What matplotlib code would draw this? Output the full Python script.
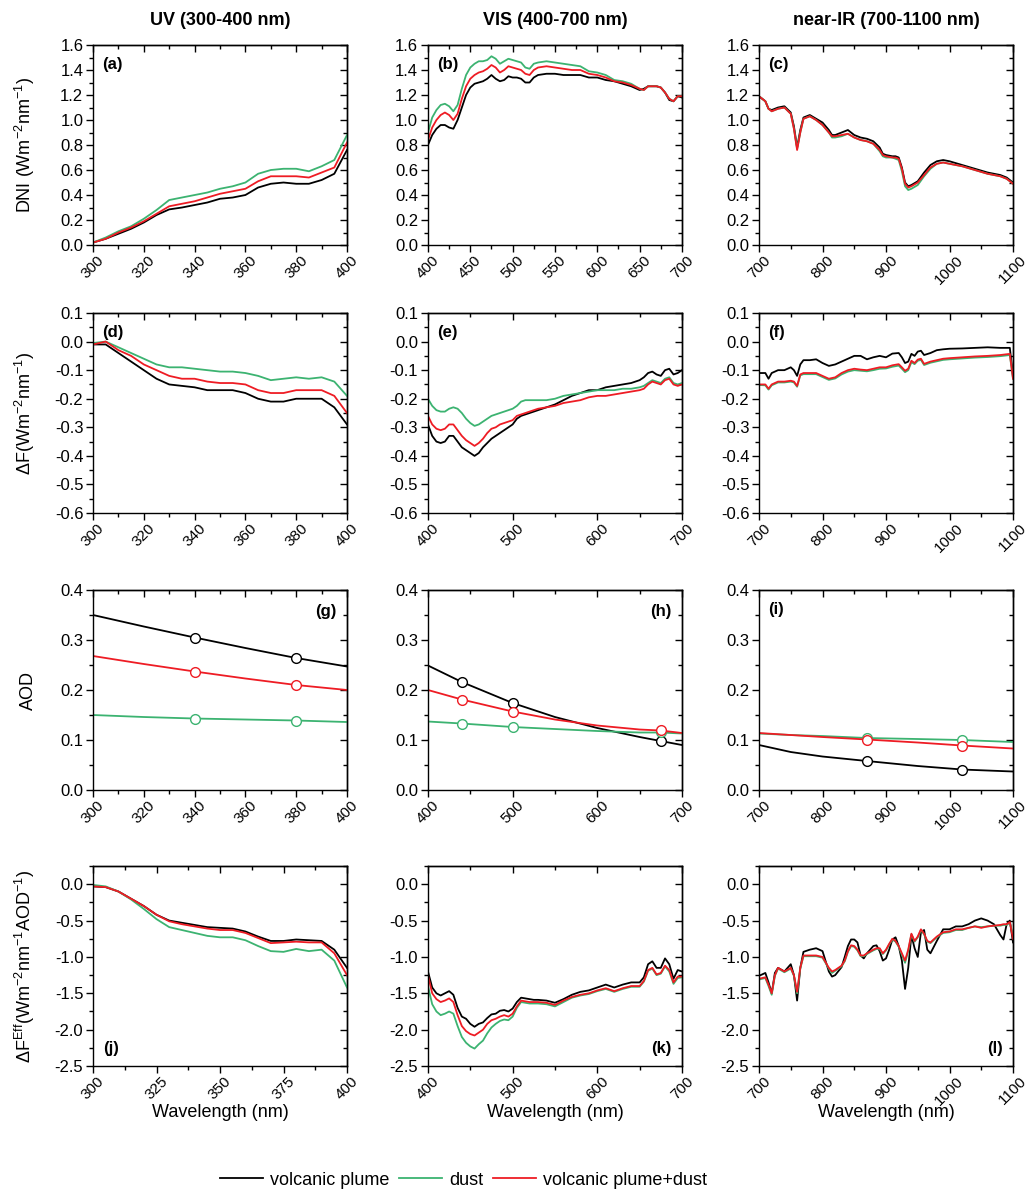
import matplotlib
matplotlib.use('Agg')
import matplotlib.pyplot as plt
from matplotlib.ticker import MultipleLocator
from matplotlib.lines import Line2D

plt.rcParams['font.family'] = ['Liberation Sans', 'DejaVu Sans']
plt.rcParams['mathtext.fontset'] = 'custom'
plt.rcParams['mathtext.rm'] = 'Liberation Sans'
plt.rcParams['mathtext.it'] = 'Liberation Sans:italic'
plt.rcParams['mathtext.bf'] = 'Liberation Sans:bold'
plt.rcParams['axes.unicode_minus'] = False

# ---- wavelength grids (nm) ----
wl_uv = [300, 305, 310, 315, 320, 325, 330, 335, 340, 345, 350,
         355, 360, 365, 370, 375, 380, 385, 390, 395, 400]
wl_vis = ([400, 405, 410, 415, 420, 425, 430, 435, 440, 445, 450, 455, 460, 465,
           470, 475, 480, 485, 490, 495, 500, 505, 510, 515, 520, 525, 530]
          + [540, 550, 560, 570, 580, 590, 600, 610, 620, 630, 640, 650]
          + [655, 660, 665, 670, 675, 680, 685, 690, 695, 700])
wl_c = [700, 710, 715, 720, 730, 740, 750, 755, 760, 765, 770, 780, 790, 800, 810,
        815, 820, 830, 840, 850, 860, 870, 880, 890, 895, 900, 910, 915, 920, 925,
        930, 935, 940, 950, 960, 970, 980, 990, 1000, 1020, 1040, 1060, 1080, 1090, 1100]
wl_f = [700, 710, 715, 720, 730, 740, 750, 755, 760, 765, 770, 780, 790, 800, 810,
        820, 830, 840, 850, 860, 870, 880, 890, 900, 910, 920, 925, 930, 935, 940,
        945, 950, 955, 960, 970, 980, 990, 1000, 1020, 1040, 1060, 1080, 1095, 1100]
wl_l = [700, 710, 715, 720, 725, 730, 740, 750, 755, 760, 765, 770,
        780, 790, 800, 810, 815, 820, 830, 835, 840, 845, 850, 855,
        860, 865, 870, 880, 885, 890, 895, 900, 905, 910, 915, 920,
        925, 930, 935, 940, 945, 950, 955, 960, 965, 970, 980, 990,
        1000, 1010, 1020, 1030, 1040, 1050, 1060, 1070, 1080, 1085, 1090, 1095, 1100]

# ---- DNI (row 1) ----
dni_uv_volc = [0.02, 0.05, 0.09, 0.13, 0.18, 0.24, 0.285, 0.30, 0.32, 0.34, 0.37,
               0.38, 0.40, 0.46, 0.49, 0.50, 0.49, 0.49, 0.52, 0.57, 0.76]
dni_uv_dust = [0.02, 0.06, 0.11, 0.15, 0.21, 0.28, 0.36, 0.38, 0.40, 0.42, 0.45,
               0.47, 0.50, 0.57, 0.60, 0.61, 0.61, 0.59, 0.63, 0.68, 0.88]
dni_uv_mix = [0.02, 0.05, 0.10, 0.14, 0.19, 0.25, 0.31, 0.33, 0.35, 0.38, 0.41,
              0.43, 0.45, 0.51, 0.55, 0.55, 0.55, 0.54, 0.58, 0.62, 0.82]

dni_vis_volc = ([0.80, 0.88, 0.93, 0.96, 0.96, 0.94, 0.93, 1.00, 1.10, 1.20, 1.26, 1.29, 1.30, 1.31,
                 1.33, 1.36, 1.33, 1.31, 1.32, 1.35, 1.34, 1.34, 1.33, 1.30, 1.30, 1.34, 1.36]
                + [1.37, 1.37, 1.36, 1.36, 1.36, 1.34, 1.34, 1.32, 1.31, 1.29, 1.27, 1.24]
                + [1.25, 1.27, 1.27, 1.27, 1.26, 1.22, 1.16, 1.15, 1.19, 1.18])
dni_vis_dust = ([0.90, 1.02, 1.08, 1.12, 1.13, 1.11, 1.07, 1.12, 1.25, 1.36, 1.42, 1.45, 1.47, 1.47,
                 1.48, 1.51, 1.49, 1.45, 1.47, 1.49, 1.48, 1.47, 1.46, 1.42, 1.41, 1.45, 1.46]
                + [1.47, 1.46, 1.45, 1.44, 1.43, 1.39, 1.38, 1.36, 1.32, 1.31, 1.29, 1.25]
                + [1.24, 1.27, 1.27, 1.27, 1.26, 1.22, 1.17, 1.15, 1.19, 1.19])
dni_vis_mix = ([0.84, 0.94, 1.00, 1.04, 1.06, 1.04, 1.00, 1.05, 1.17, 1.27, 1.33, 1.36, 1.38, 1.39,
                1.41, 1.44, 1.42, 1.38, 1.40, 1.43, 1.42, 1.41, 1.40, 1.37, 1.36, 1.40, 1.42]
               + [1.43, 1.42, 1.41, 1.40, 1.40, 1.37, 1.36, 1.34, 1.31, 1.30, 1.28, 1.25]
               + [1.24, 1.27, 1.27, 1.27, 1.26, 1.22, 1.17, 1.15, 1.19, 1.19])

dni_nir_volc = [1.19, 1.15, 1.09, 1.08, 1.10, 1.11, 1.06, 0.95, 0.78, 0.92, 1.02, 1.04, 1.01, 0.98, 0.92,
                0.88, 0.88, 0.90, 0.92, 0.88, 0.86, 0.85, 0.83, 0.78, 0.73, 0.72, 0.71, 0.71, 0.70, 0.62,
                0.50, 0.47, 0.48, 0.51, 0.58, 0.64, 0.67, 0.68, 0.67, 0.64, 0.61, 0.58, 0.56, 0.54, 0.50]
dni_nir_dust = [1.19, 1.15, 1.09, 1.07, 1.09, 1.10, 1.05, 0.93, 0.77, 0.90, 1.01, 1.03, 1.00, 0.96, 0.90,
                0.86, 0.86, 0.87, 0.89, 0.86, 0.84, 0.83, 0.81, 0.75, 0.71, 0.70, 0.70, 0.69, 0.68, 0.59,
                0.47, 0.44, 0.45, 0.48, 0.55, 0.61, 0.65, 0.66, 0.65, 0.63, 0.60, 0.57, 0.55, 0.53, 0.49]
dni_nir_mix = [1.19, 1.15, 1.09, 1.07, 1.09, 1.10, 1.05, 0.93, 0.76, 0.90, 1.01, 1.03, 1.00, 0.96, 0.90,
               0.87, 0.87, 0.88, 0.89, 0.86, 0.84, 0.83, 0.81, 0.76, 0.72, 0.71, 0.70, 0.70, 0.69, 0.61,
               0.49, 0.46, 0.47, 0.50, 0.56, 0.62, 0.65, 0.66, 0.65, 0.63, 0.60, 0.57, 0.55, 0.53, 0.49]

# ---- Delta F (row 2) ----
df_uv_volc = [-0.01, -0.01, -0.04, -0.07, -0.10, -0.13, -0.15, -0.155, -0.16, -0.17, -0.17,
              -0.17, -0.18, -0.20, -0.21, -0.21, -0.20, -0.20, -0.20, -0.23, -0.29]
df_uv_dust = [-0.005, 0.00, -0.02, -0.04, -0.06, -0.08, -0.09, -0.09, -0.095, -0.10, -0.105,
              -0.105, -0.11, -0.12, -0.135, -0.13, -0.125, -0.13, -0.125, -0.14, -0.19]
df_uv_mix = [-0.01, 0.00, -0.03, -0.05, -0.08, -0.10, -0.12, -0.13, -0.13, -0.14, -0.145,
             -0.145, -0.15, -0.17, -0.18, -0.18, -0.17, -0.17, -0.17, -0.19, -0.25]

df_vis_volc = ([-0.29, -0.33, -0.35, -0.355, -0.35, -0.33, -0.33, -0.35, -0.37, -0.38, -0.39, -0.40, -0.39, -0.37,
                -0.355, -0.34, -0.33, -0.32, -0.31, -0.30, -0.29, -0.27, -0.26, -0.255, -0.25, -0.245, -0.24]
               + [-0.23, -0.22, -0.205, -0.19, -0.18, -0.17, -0.17, -0.16, -0.155, -0.15, -0.145, -0.135]
               + [-0.125, -0.11, -0.105, -0.115, -0.12, -0.10, -0.095, -0.115, -0.11, -0.10])
df_vis_dust = ([-0.20, -0.225, -0.24, -0.245, -0.245, -0.235, -0.23, -0.235, -0.25, -0.27, -0.285, -0.295, -0.29, -0.28,
                -0.27, -0.26, -0.255, -0.25, -0.245, -0.24, -0.235, -0.225, -0.21, -0.205, -0.205, -0.205, -0.205]
               + [-0.205, -0.20, -0.19, -0.185, -0.18, -0.175, -0.17, -0.17, -0.17, -0.165, -0.165, -0.16]
               + [-0.155, -0.145, -0.135, -0.14, -0.145, -0.13, -0.125, -0.145, -0.15, -0.145])
df_vis_mix = ([-0.26, -0.29, -0.305, -0.31, -0.305, -0.29, -0.29, -0.31, -0.33, -0.345, -0.355, -0.365, -0.355, -0.34,
               -0.32, -0.305, -0.30, -0.29, -0.285, -0.28, -0.275, -0.26, -0.255, -0.25, -0.245, -0.24, -0.235]
              + [-0.23, -0.225, -0.215, -0.21, -0.205, -0.195, -0.19, -0.19, -0.185, -0.18, -0.175, -0.17]
              + [-0.165, -0.15, -0.14, -0.145, -0.15, -0.135, -0.13, -0.15, -0.155, -0.15])

df_nir_volc = [-0.11, -0.11, -0.13, -0.11, -0.10, -0.10, -0.09, -0.10, -0.12, -0.08,
               -0.065, -0.065, -0.062, -0.075, -0.085, -0.08, -0.07, -0.06, -0.05, -0.05,
               -0.062, -0.055, -0.05, -0.055, -0.042, -0.04, -0.055, -0.075, -0.07, -0.043,
               -0.05, -0.035, -0.032, -0.047, -0.04, -0.03, -0.027, -0.025, -0.024, -0.022,
               -0.02, -0.022, -0.022, -0.12]
df_nir_dust = [-0.152, -0.153, -0.168, -0.153, -0.143, -0.143, -0.14, -0.143, -0.158, -0.118,
               -0.114, -0.114, -0.114, -0.124, -0.134, -0.129, -0.115, -0.105, -0.10, -0.102,
               -0.104, -0.10, -0.095, -0.094, -0.088, -0.084, -0.095, -0.107, -0.10, -0.072,
               -0.079, -0.067, -0.064, -0.082, -0.074, -0.069, -0.064, -0.062, -0.059, -0.056,
               -0.054, -0.051, -0.047, -0.13]
df_nir_mix = [-0.15, -0.15, -0.165, -0.15, -0.14, -0.14, -0.137, -0.14, -0.155, -0.115,
              -0.11, -0.11, -0.11, -0.12, -0.13, -0.125, -0.11, -0.10, -0.095, -0.098,
              -0.10, -0.095, -0.09, -0.09, -0.083, -0.079, -0.09, -0.102, -0.095, -0.067,
              -0.075, -0.063, -0.06, -0.078, -0.07, -0.065, -0.06, -0.058, -0.055, -0.052,
              -0.05, -0.047, -0.043, -0.13]

# ---- AOD (row 3) ----
wl_aod_uv = [300, 320, 340, 360, 380, 400]
aod_uv_volc = [0.350, 0.327, 0.305, 0.284, 0.264, 0.247]
aod_uv_dust = [0.150, 0.146, 0.143, 0.141, 0.139, 0.136]
aod_uv_mix = [0.268, 0.252, 0.237, 0.223, 0.210, 0.200]
wl_aod_vis = [400, 440, 500, 550, 600, 650, 675, 700]
aod_vis_volc = [0.249, 0.216, 0.174, 0.146, 0.124, 0.106, 0.098, 0.090]
aod_vis_dust = [0.137, 0.133, 0.126, 0.122, 0.118, 0.115, 0.115, 0.113]
aod_vis_mix = [0.200, 0.181, 0.157, 0.141, 0.129, 0.121, 0.119, 0.114]
wl_aod_nir = [700, 750, 800, 870, 950, 1020, 1100]
aod_nir_volc = [0.090, 0.076, 0.067, 0.058, 0.048, 0.041, 0.037]
aod_nir_dust = [0.113, 0.110, 0.108, 0.104, 0.102, 0.100, 0.096]
aod_nir_mix = [0.114, 0.110, 0.106, 0.101, 0.095, 0.089, 0.083]

# measured AOD (open circles)
obs_uv = [340, 380]
obs_uv_volc = [0.305, 0.264]
obs_uv_dust = [0.143, 0.139]
obs_uv_mix = [0.237, 0.210]
obs_vis = [440, 500, 675]
obs_vis_volc = [0.216, 0.174, 0.098]
obs_vis_dust = [0.133, 0.126, 0.116]
obs_vis_mix = [0.181, 0.157, 0.120]
obs_nir = [870, 1020]
obs_nir_volc = [0.058, 0.041]
obs_nir_dust = [0.104, 0.100]
obs_nir_mix = [0.101, 0.089]

# ---- Delta F efficiency (row 4) ----
dfe_uv_volc = [-0.03, -0.04, -0.10, -0.20, -0.30, -0.42, -0.50, -0.53, -0.56, -0.59, -0.60,
               -0.61, -0.65, -0.72, -0.78, -0.78, -0.76, -0.77, -0.78, -0.90, -1.15]
dfe_uv_dust = [-0.01, -0.03, -0.10, -0.21, -0.34, -0.48, -0.59, -0.63, -0.67, -0.71, -0.73,
               -0.73, -0.77, -0.85, -0.92, -0.93, -0.89, -0.92, -0.90, -1.05, -1.42]
dfe_uv_mix = [-0.03, -0.04, -0.10, -0.20, -0.30, -0.42, -0.51, -0.55, -0.58, -0.61, -0.63,
              -0.63, -0.67, -0.74, -0.81, -0.80, -0.79, -0.80, -0.80, -0.95, -1.25]

dfe_vis_volc = ([-1.20, -1.42, -1.50, -1.53, -1.50, -1.47, -1.52, -1.70, -1.82, -1.85, -1.92, -1.96, -1.92, -1.90,
                 -1.84, -1.79, -1.78, -1.74, -1.73, -1.75, -1.71, -1.62, -1.56, -1.57, -1.58, -1.59, -1.59]
                + [-1.60, -1.63, -1.58, -1.52, -1.48, -1.46, -1.42, -1.38, -1.42, -1.38, -1.35, -1.35]
                + [-1.28, -1.10, -1.06, -1.15, -1.15, -1.02, -1.10, -1.30, -1.18, -1.20])
dfe_vis_dust = ([-1.40, -1.65, -1.75, -1.80, -1.78, -1.75, -1.78, -1.95, -2.10, -2.18, -2.23, -2.26, -2.20, -2.15,
                 -2.05, -1.97, -1.92, -1.88, -1.86, -1.87, -1.82, -1.70, -1.62, -1.63, -1.64, -1.64, -1.64]
                + [-1.65, -1.68, -1.62, -1.56, -1.53, -1.51, -1.47, -1.44, -1.48, -1.44, -1.41, -1.41]
                + [-1.34, -1.19, -1.16, -1.25, -1.23, -1.13, -1.20, -1.37, -1.29, -1.28])
dfe_vis_mix = ([-1.25, -1.50, -1.58, -1.62, -1.60, -1.57, -1.62, -1.80, -1.95, -2.02, -2.06, -2.08, -2.04, -2.00,
                -1.92, -1.87, -1.85, -1.82, -1.80, -1.82, -1.78, -1.68, -1.60, -1.61, -1.62, -1.62, -1.62]
               + [-1.63, -1.66, -1.60, -1.55, -1.52, -1.50, -1.46, -1.43, -1.47, -1.43, -1.40, -1.40]
               + [-1.33, -1.18, -1.15, -1.24, -1.22, -1.12, -1.18, -1.35, -1.27, -1.27])

dfe_nir_volc = [-1.26, -1.22, -1.35, -1.50, -1.22, -1.15, -1.20, -1.10, -1.25, -1.60, -1.15, -0.93,
                -0.90, -0.88, -0.92, -1.20, -1.27, -1.25, -1.14, -1.00, -0.85, -0.76, -0.76, -0.80,
                -0.98, -1.02, -0.95, -0.85, -0.84, -0.92, -1.05, -1.02, -0.90, -0.76, -0.73, -0.85,
                -1.05, -1.44, -1.15, -0.70, -0.88, -1.00, -0.66, -0.63, -0.90, -0.95, -0.78, -0.62,
                -0.62, -0.58, -0.58, -0.55, -0.50, -0.47, -0.50, -0.55, -0.70, -0.76, -0.55, -0.50, -0.80]
dfe_nir_dust = [-1.31, -1.29, -1.40, -1.52, -1.26, -1.16, -1.21, -1.16, -1.26, -1.50, -1.16, -0.99,
                -0.99, -0.99, -1.01, -1.16, -1.22, -1.19, -1.13, -1.06, -0.93, -0.85, -0.86, -0.91,
                -0.99, -0.99, -0.96, -0.91, -0.89, -0.89, -0.96, -0.91, -0.83, -0.76, -0.79, -0.86,
                -0.97, -1.08, -0.92, -0.69, -0.79, -0.73, -0.63, -0.69, -0.79, -0.81, -0.73, -0.67,
                -0.66, -0.63, -0.63, -0.60, -0.58, -0.59, -0.58, -0.57, -0.57, -0.56, -0.56, -0.53, -0.70]
dfe_nir_mix = [-1.30, -1.28, -1.38, -1.50, -1.25, -1.15, -1.20, -1.15, -1.25, -1.48, -1.15, -0.98,
               -0.98, -0.98, -1.00, -1.15, -1.20, -1.18, -1.12, -1.05, -0.92, -0.84, -0.85, -0.90,
               -0.98, -0.98, -0.95, -0.90, -0.88, -0.88, -0.95, -0.90, -0.82, -0.75, -0.78, -0.85,
               -0.95, -1.05, -0.90, -0.68, -0.78, -0.72, -0.62, -0.68, -0.78, -0.80, -0.72, -0.66,
               -0.65, -0.62, -0.62, -0.60, -0.58, -0.60, -0.58, -0.57, -0.56, -0.55, -0.55, -0.52, -0.75]

names = ['volcanic plume', 'dust', 'volcanic plume+dust']
colors = ['#000000', '#3cb371', '#ee1c24']
col_titles = ['UV (300-400 nm)', 'VIS (400-700 nm)', 'near-IR (700-1100 nm)']
row_ylabels = ['DNI (Wm$^{-2}$nm$^{-1}$)', r'$\Delta$F(Wm$^{-2}$nm$^{-1}$)', 'AOD',
               r'$\Delta$F$^{\mathrm{Eff}}$(Wm$^{-2}$nm$^{-1}$AOD$^{-1}$)']

fig = plt.figure(figsize=(10.3, 11.97), dpi=100)
lefts = [0.0903, 0.4155, 0.7369]
bottoms = [0.7953, 0.5714, 0.340, 0.1094]
w, h = 0.2466, 0.1671


def style(ax, xlim, xmaj, xmin, ylim, ymaj, ymin):
    ax.set_xlim(xlim)
    ax.set_ylim(ylim)
    ax.xaxis.set_major_locator(MultipleLocator(xmaj))
    ax.xaxis.set_minor_locator(MultipleLocator(xmin))
    ax.yaxis.set_major_locator(MultipleLocator(ymaj))
    ax.yaxis.set_minor_locator(MultipleLocator(ymin))
    ax.tick_params(which='both', direction='out', width=1.0, pad=2)
    ax.tick_params(axis='y', labelsize=12)
    ax.tick_params(axis='x', labelsize=11, labelrotation=45, pad=1)
    ax.tick_params(which='major', length=5)
    ax.tick_params(which='minor', length=3)
    for s in ax.spines.values():
        s.set_linewidth(1.0)
    sx = ax.secondary_xaxis('top')
    sx.xaxis.set_major_locator(MultipleLocator(xmaj))
    sx.xaxis.set_minor_locator(MultipleLocator(xmin))
    sx.tick_params(which='both', direction='in', labeltop=False, width=1.0)
    sx.tick_params(which='major', length=5)
    sx.tick_params(which='minor', length=3)
    sx.spines['top'].set_linewidth(1.0)
    sy = ax.secondary_yaxis('right')
    sy.yaxis.set_major_locator(MultipleLocator(ymaj))
    sy.yaxis.set_minor_locator(MultipleLocator(ymin))
    sy.tick_params(which='both', direction='in', labelright=False, width=1.0)
    sy.tick_params(which='major', length=5)
    sy.tick_params(which='minor', length=3)
    sy.spines['right'].set_linewidth(1.0)


rows = [
    # (x grids per column, series per column, ylim, ymaj, ymin)
    ([wl_uv, wl_vis, wl_c],
     [(dni_uv_volc, dni_uv_dust, dni_uv_mix), (dni_vis_volc, dni_vis_dust, dni_vis_mix),
      (dni_nir_volc, dni_nir_dust, dni_nir_mix)], (0, 1.6), 0.2, 0.1),
    ([wl_uv, wl_vis, wl_f],
     [(df_uv_volc, df_uv_dust, df_uv_mix), (df_vis_volc, df_vis_dust, df_vis_mix),
      (df_nir_volc, df_nir_dust, df_nir_mix)], (-0.6, 0.1), 0.1, 0.05),
    ([wl_aod_uv, wl_aod_vis, wl_aod_nir],
     [(aod_uv_volc, aod_uv_dust, aod_uv_mix), (aod_vis_volc, aod_vis_dust, aod_vis_mix),
      (aod_nir_volc, aod_nir_dust, aod_nir_mix)], (0, 0.4), 0.1, 0.05),
    ([wl_uv, wl_vis, wl_l],
     [(dfe_uv_volc, dfe_uv_dust, dfe_uv_mix), (dfe_vis_volc, dfe_vis_dust, dfe_vis_mix),
      (dfe_nir_volc, dfe_nir_dust, dfe_nir_mix)], (-2.5, 0.25), 0.5, 0.25),
]
obs = [(obs_uv, (obs_uv_volc, obs_uv_dust, obs_uv_mix)),
       (obs_vis, (obs_vis_volc, obs_vis_dust, obs_vis_mix)),
       (obs_nir, (obs_nir_volc, obs_nir_dust, obs_nir_mix))]

xlims = [(300, 400), (400, 700), (700, 1100)]
# x tick steps per row/column (major, minor)
xticks = [
    [(20, 10), (50, 25), (100, 50)],
    [(20, 10), (100, 50), (100, 50)],
    [(20, 10), (100, 50), (100, 50)],
    [(25, 12.5), (100, 50), (100, 50)],
]
letters = 'abcdefghijkl'
letter_pos = {'a': 'tl', 'b': 'tl', 'c': 'tl', 'd': 'tl', 'e': 'tl', 'f': 'tl',
              'g': 'tr', 'h': 'tr', 'i': 'tl', 'j': 'bl', 'k': 'br', 'l': 'br'}
pos_xy = {'tl': (0.035, 0.94, 'left', 'top'), 'tr': (0.96, 0.93, 'right', 'top'),
          'bl': (0.04, 0.05, 'left', 'bottom'), 'br': (0.96, 0.05, 'right', 'bottom')}

for r, (grids, series, ylim, ymaj, ymin) in enumerate(rows):
    for c in range(3):
        ax = fig.add_axes([lefts[c], bottoms[r], w, h])
        for s, col in zip(series[c], colors):
            ax.plot(grids[c], s, color=col, lw=1.3)
        if r == 2:
            ox, oys = obs[c]
            for oy, col in zip(oys, colors):
                ax.plot(ox, oy, 'o', ms=7, mfc='white', mec=col, mew=1.0, zorder=5)
        style(ax, xlims[c], xticks[r][c][0], xticks[r][c][1], ylim, ymaj, ymin)
        lt = letters[r * 3 + c]
        px, py, ha, va = pos_xy[letter_pos[lt]]
        ax.text(px, py, '(%s)' % lt, transform=ax.transAxes, ha=ha, va=va,
                fontsize=12, fontweight='bold')
        if c == 0:
            ax.set_ylabel(row_ylabels[r], fontsize=13)
            ax.yaxis.set_label_coords(-0.22, 0.5)
        if r == 3:
            ax.set_xlabel('Wavelength (nm)', fontsize=13)
            ax.xaxis.set_label_coords(0.5, -0.19)
        if r == 0:
            ax.text(0.5, 1.125, col_titles[c], transform=ax.transAxes, ha='center',
                    va='center', fontsize=13, fontweight='bold')

handles = [Line2D([], [], color=col, lw=1.3) for col in colors]
fig.legend(handles, names, loc='center', bbox_to_anchor=(0.45, 0.014), ncol=3,
           frameon=False, fontsize=13, handlelength=2.4, handletextpad=0.4,
           columnspacing=0.5)

fig.savefig('out.png', dpi=100)
